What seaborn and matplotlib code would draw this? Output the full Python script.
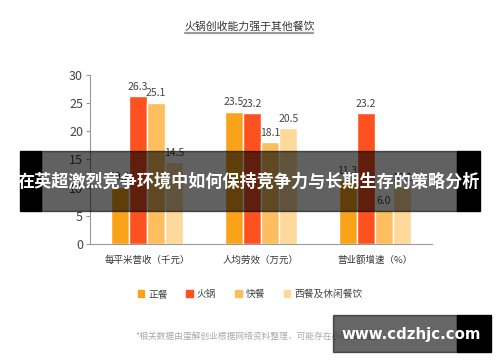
import seaborn as sns
import pandas as pd
import matplotlib.pyplot as plt
from matplotlib.patches import Rectangle
from matplotlib.lines import Line2D

metrics = ['每平米营收（千元）', '人均劳效（万元）', '营业额增速（%）']
kinds = ['正餐', '火锅', '快餐', '西餐及休闲餐饮']
zhengcan = [10.2, 23.5, 11.3]
huoguo = [26.3, 23.2, 23.2]
kuaican = [25.1, 18.1, 6.0]
xican = [14.5, 20.5, 10.1]
colors = ['#F9A31B', '#FD5220', '#FCBE5E', '#FDD99B']

sns.set_theme(style='white')
plt.rcParams['font.family'] = ['Noto Sans CJK SC', 'DejaVu Sans']

df = pd.DataFrame({
    'metric': metrics * 4,
    'kind': [k for k in kinds for _ in metrics],
    'value': zhengcan + huoguo + kuaican + xican,
})

fig = plt.figure(figsize=(5, 3.62), dpi=100)
ax = fig.add_axes([0.18, 0.326, 0.684, 0.467])
sns.barplot(data=df, x='metric', y='value', hue='kind', hue_order=kinds,
            palette=colors, width=0.64, saturation=1, ax=ax, legend=False)

for c in ax.containers:
    ax.bar_label(c, fmt='%.1f', padding=3, fontsize=7.5, color='#444444')

ax.set_ylim(0, 30)
ax.set_yticks([0, 5, 10, 15, 20, 25, 30])
ax.set_xlabel('')
ax.set_ylabel('')
sns.despine(ax=ax)
for s in ['left', 'bottom']:
    ax.spines[s].set_color('#999999')
    ax.spines[s].set_linewidth(0.8)
ax.tick_params(axis='y', left=True, length=3, width=0.8, color='#999999',
               labelsize=9, labelcolor='#444444', pad=2)
ax.tick_params(axis='x', bottom=False, labelsize=6.8, labelcolor='#333333', pad=2)

handles = [Rectangle((0, 0), 1, 1, color=c) for c in colors]
fig.legend(handles, kinds, loc='center', bbox_to_anchor=(0.5, 0.188), ncol=4,
           frameon=False, handlelength=0.7, handleheight=0.7, handletextpad=0.4,
           columnspacing=1.9, fontsize=7, labelcolor='#444444')

fig.text(0.5, 1 - 27 / 362, '火锅创收能力强于其他餐饮', ha='center', va='center',
         fontsize=7.8, color='#333333')
fig.add_artist(Line2D([185 / 500, 313 / 500], [1 - 33 / 362] * 2, color='#9a9a9a', lw=1.6))

fig.text(135 / 500, 1 - 336 / 362, '*相关数据由蛋解创业根据网络资料整理，可能存在小范围误差',
         ha='left', va='center', fontsize=6.3, color='#aaaaaa')

# overlay banner
fig.add_artist(Rectangle((20 / 500, 1 - 211 / 362), 21 / 500, 60 / 362,
                         transform=fig.transFigure, color='black', zorder=10))
fig.add_artist(Rectangle((457 / 500, 1 - 211 / 362), 23 / 500, 60 / 362,
                         transform=fig.transFigure, color='black', zorder=10))
fig.add_artist(Rectangle((41 / 500, 1 - 211 / 362), 416 / 500, 60 / 362,
                         transform=fig.transFigure, color='black', alpha=0.62, zorder=10))
fig.text(249 / 500, 1 - 182 / 362, '在英超激烈竞争环境中如何保持竞争力与长期生存的策略分析',
         ha='center', va='center', fontsize=12.3, fontweight='bold', color='white', zorder=11)

# watermark
fig.add_artist(Rectangle((333 / 500, 1 - 352 / 362), 124 / 500, 37 / 362,
                         transform=fig.transFigure, color='black', alpha=0.6, zorder=10))
fig.add_artist(Rectangle((457 / 500, 1 - 352 / 362), 34 / 500, 37 / 362,
                         transform=fig.transFigure, color='black', zorder=10))
fig.text(411 / 500, 1 - 334 / 362, 'www.cdzhjc.com', ha='center', va='center',
         fontsize=10.8, fontweight='bold', color='white', family='DejaVu Sans', zorder=11)

fig.savefig('out.png', dpi=100)
